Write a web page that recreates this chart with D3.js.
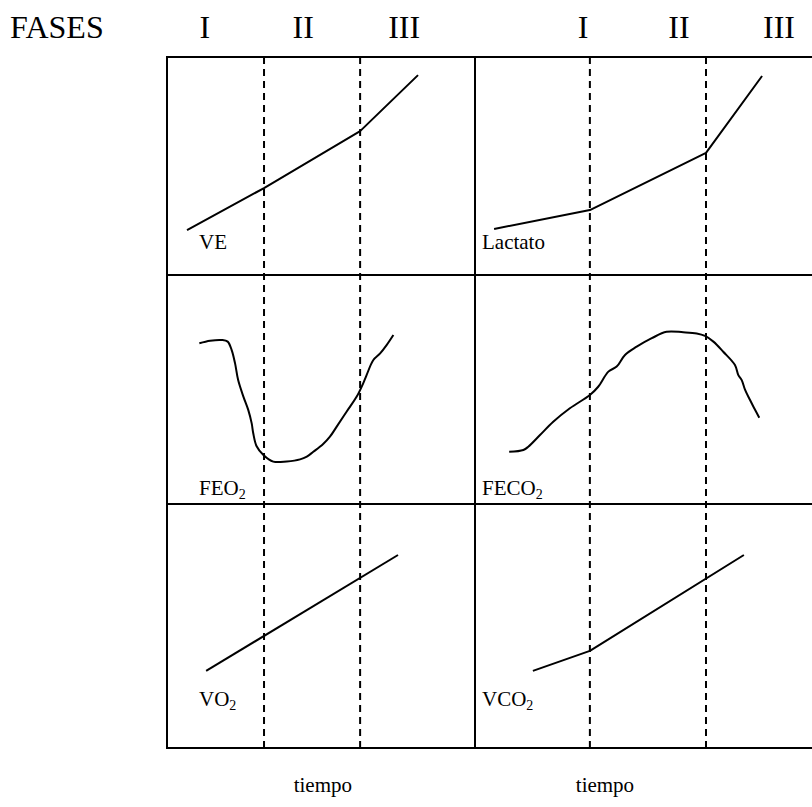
<!DOCTYPE html>
<html>
<head>
<meta charset="utf-8">
<script src="https://cdn.jsdelivr.net/npm/d3@7"></script>
<style>
  html, body { margin: 0; padding: 0; background: #fff; }
  svg { display: block; }
  text { font-family: "Liberation Serif", "Times New Roman", serif; fill: #000; }
</style>
</head>
<body>
<svg id="chart" width="812" height="807"></svg>
<script>
// Phase headers (positions along the time axis of each column)
const phaseNames = ["I", "II", "III"];
const phaseHeaderLeft = [12.3, 44.2, 77.0];
const phaseHeaderRight = [35.1, 66.2, 98.7];

// Phase boundaries (thresholds) along time, per column
const thresholdsLeft = [31.5, 62.7];
const thresholdsRight = [37.3, 75.0];

// Left column series: [time, value]
const ve = [[6.5, 20.6], [31.5, 39.9], [62.7, 66.0], [81.5, 91.7]];
const feo2 = [
  [10.5, 70.2], [14.0, 71.3], [17.8, 71.6], [19.7, 70.9], [21.0, 67.2],
  [22.1, 61.4], [23.1, 54.1], [24.8, 46.9], [26.4, 41.0], [27.5, 35.2],
  [28.0, 30.9], [29.1, 25.2], [31.3, 21.4], [34.5, 18.5], [38.9, 18.6],
  [43.2, 19.5], [45.4, 20.7], [47.5, 22.8], [50.7, 26.2], [52.9, 29.4],
  [55.1, 33.8], [58.3, 40.3], [61.6, 46.9], [63.7, 52.7], [64.8, 56.3],
  [67.0, 62.9], [69.2, 65.8], [71.3, 69.4], [73.5, 73.8]
];
const vo2 = [[12.7, 31.6], [75.0, 79.1]];

// Right column series: [time, value]
const lactato = [[6.2, 21.1], [37.3, 29.8], [75.0, 56.0], [93.2, 91.3]];
const feco2 = [
  [11.1, 22.8], [15.7, 23.6], [17.3, 25.0], [21.1, 30.1], [25.4, 35.9],
  [30.8, 41.8], [37.3, 47.6], [40.0, 51.2], [43.3, 57.8], [46.0, 60.0],
  [48.7, 65.1], [52.5, 68.7], [57.4, 72.4], [62.2, 75.2], [67.6, 75.0],
  [72.0, 74.5], [74.7, 73.4], [77.4, 70.9], [80.6, 66.5], [84.4, 60.7],
  [85.5, 56.3], [86.6, 54.1], [87.7, 49.8], [89.3, 45.4], [90.4, 42.5],
  [92.3, 37.7]
];
const vco2 = [[18.8, 31.6], [37.3, 39.8], [87.3, 79.1]];

// Panel labels: [main text, subscript]
const labelsLeft = [["VE", ""], ["FEO", "2"], ["VO", "2"]];
const labelsRight = [["Lactato", ""], ["FECO", "2"], ["VCO", "2"]];
const axisTitle = "tiempo";
const headerTitle = "FASES";

// ---- layout ----
const svg = d3.select("#chart");
const colLeft = [167, 475];
const rowEdges = [57, 275, 504, 748];
const frameRight = 840;

const xLeft = d3.scaleLinear().domain([0, 100]).range([colLeft[0], colLeft[1]]);
const xRight = d3.scaleLinear().domain([0, 100]).range([colLeft[1], colLeft[1] + 308]);
const yRows = [0, 1, 2].map(i =>
  d3.scaleLinear().domain([0, 100]).range([rowEdges[i + 1], rowEdges[i]]));

const columns = [
  { x: xLeft, thresholds: thresholdsLeft, header: phaseHeaderLeft,
    series: [ve, feo2, vo2], labels: labelsLeft, labelPad: 32 },
  { x: xRight, thresholds: thresholdsRight, header: phaseHeaderRight,
    series: [lactato, feco2, vco2], labels: labelsRight, labelPad: 7 }
];

// Dashed phase boundaries
columns.forEach(col => {
  svg.append("g").selectAll("line")
    .data(col.thresholds)
    .join("line")
    .attr("x1", d => col.x(d)).attr("x2", d => col.x(d))
    .attr("y1", rowEdges[0]).attr("y2", rowEdges[3])
    .attr("stroke", "#000").attr("stroke-width", 2)
    .attr("stroke-dasharray", "7,5");
});

// Frame and grid
const grid = svg.append("g").attr("stroke", "#000").attr("stroke-width", 2).attr("fill", "none");
grid.append("rect")
  .attr("x", colLeft[0]).attr("y", rowEdges[0])
  .attr("width", frameRight - colLeft[0]).attr("height", rowEdges[3] - rowEdges[0]);
grid.append("line")
  .attr("x1", colLeft[1]).attr("x2", colLeft[1])
  .attr("y1", rowEdges[0]).attr("y2", rowEdges[3]);
grid.selectAll("line.h")
  .data([rowEdges[1], rowEdges[2]])
  .join("line").attr("class", "h")
  .attr("x1", colLeft[0]).attr("x2", frameRight)
  .attr("y1", d => d).attr("y2", d => d);

// Curves
columns.forEach(col => {
  col.series.forEach((s, i) => {
    const line = d3.line()
      .x(d => col.x(d[0]))
      .y(d => yRows[i](d[1]))
      .curve(s.length > 4 ? d3.curveCatmullRom.alpha(0.5) : d3.curveLinear);
    svg.append("path")
      .datum(s)
      .attr("d", line)
      .attr("fill", "none")
      .attr("stroke", "#000")
      .attr("stroke-width", 2)
      .attr("stroke-linejoin", "round");
  });
});

// Panel labels
const labelBaseline = [249, 495, 706];
columns.forEach(col => {
  col.labels.forEach((lab, i) => {
    const t = svg.append("text")
      .attr("x", col.x(0) + col.labelPad)
      .attr("y", labelBaseline[i])
      .attr("font-size", 21);
    t.append("tspan").text(lab[0]);
    if (lab[1]) {
      t.append("tspan").attr("font-size", 14).attr("dy", 4).text(lab[1]);
    }
  });
});

// Header row
svg.append("text")
  .attr("x", 10).attr("y", 38)
  .attr("font-size", 32)
  .text(headerTitle);
columns.forEach(col => {
  svg.append("g").selectAll("text")
    .data(col.header)
    .join("text")
    .attr("x", d => col.x(d))
    .attr("y", 38)
    .attr("text-anchor", "middle")
    .attr("font-size", 32)
    .text((d, i) => phaseNames[i]);
});

// Time axis titles
svg.append("g").selectAll("text")
  .data([xLeft(50.6), xRight(42.2)])
  .join("text")
  .attr("x", d => d)
  .attr("y", 792)
  .attr("text-anchor", "middle")
  .attr("font-size", 21)
  .text(axisTitle);
</script>
</body>
</html>
